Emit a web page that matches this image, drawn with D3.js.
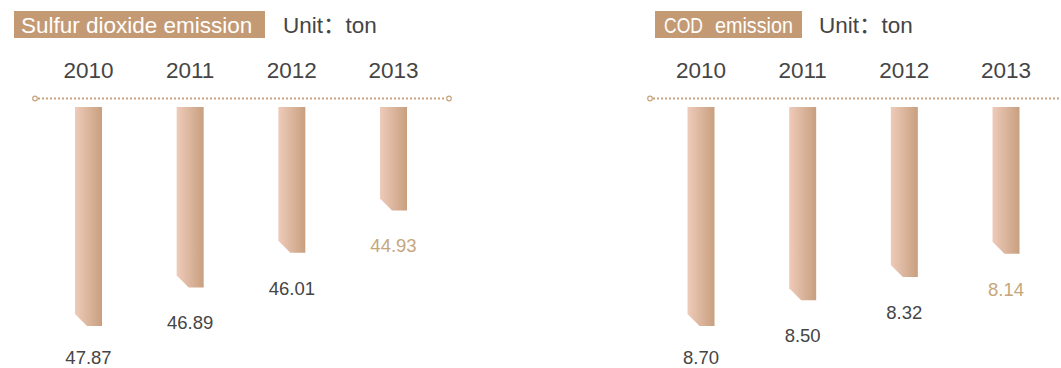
<!DOCTYPE html>
<html>
<head>
<meta charset="utf-8">
<script src="https://cdn.jsdelivr.net/npm/d3@7"></script>
<style>
  html, body { margin: 0; padding: 0; background: #ffffff; }
  svg { display: block; font-family: "Liberation Sans", Arial, "Noto Sans CJK SC", sans-serif; }
</style>
</head>
<body>
<svg id="chart" width="1061" height="368"></svg>
<script>
// ---- data ----
const years = ["2010", "2011", "2012", "2013"];
const so2Values = [47.87, 46.89, 46.01, 44.93];
const codValues = [8.70, 8.50, 8.32, 8.14];
const so2Title = ["Sulfur dioxide emission"];
const codTitle = ["COD", "emission"];
const unitLabel = "Unit：ton";
const so2Base = 42.3;
const codBase = 7.0;

const panels = [
  { title: so2Title, values: so2Values, base: so2Base, titleX: 14, titleW: 251, titleSize: 22.5,
    titleParts: [{ x: 21, w: null }], unitX: 283,
    xRange: [88.5, 393.5], lineX: [35, 449], rightCircle: true },
  { title: codTitle, values: codValues, base: codBase, titleX: 655, titleW: 147, titleSize: 21.5,
    titleParts: [{ x: 664, w: 39 }, { x: 715, w: 78 }], unitX: 819,
    xRange: [701, 1006], lineX: [650, 1070], rightCircle: false }
];

const svg = d3.select("#chart");
const defs = svg.append("defs");
const grad = defs.append("linearGradient").attr("id", "barGrad")
  .attr("x1", "0%").attr("x2", "100%").attr("y1", "0%").attr("y2", "0%");
grad.append("stop").attr("offset", "0%").attr("stop-color", "#eecbba");
grad.append("stop").attr("offset", "100%").attr("stop-color", "#c89f7e");

const barTop = 107, barMaxBottom = 326, barW = 27, chamfer = 12;
const tan = "#c49a74";
const lineColor = "#c9a47c";
const textDark = "#454545";
const highlight = "#c6a67c";

panels.forEach(p => {
  const g = svg.append("g");
  // title box
  g.append("rect").attr("x", p.titleX).attr("y", 11).attr("width", p.titleW).attr("height", 27).attr("fill", tan);
  p.title.forEach((t, i) => {
    const part = p.titleParts[i];
    const txt = g.append("text").attr("x", part.x).attr("y", 32.5).attr("fill", "#ffffff")
      .attr("font-size", p.titleSize).text(t);
    if (part.w) txt.attr("textLength", part.w).attr("lengthAdjust", "spacingAndGlyphs");
  });
  g.append("text").attr("x", p.unitX).attr("y", 32.5).attr("fill", textDark)
    .attr("font-size", 22.5).text(unitLabel);

  const x = d3.scalePoint().domain(years).range(p.xRange);
  const y = d3.scaleLinear().domain([p.base, d3.max(p.values)]).range([barTop, barMaxBottom]);

  // year labels
  g.selectAll("text.year").data(years).join("text").attr("class", "year")
    .attr("x", d => x(d)).attr("y", 78).attr("text-anchor", "middle")
    .attr("fill", textDark).attr("font-size", 22.5).text(d => d);

  // dotted line
  g.append("line").attr("x1", p.lineX[0] + 3).attr("x2", p.rightCircle ? p.lineX[1] - 3 : p.lineX[1])
    .attr("y1", 98.5).attr("y2", 98.5).attr("stroke", lineColor).attr("stroke-width", 2)
    .attr("stroke-dasharray", "2,2");
  g.append("circle").attr("cx", p.lineX[0]).attr("cy", 98.5).attr("r", 2.3)
    .attr("fill", "#fff").attr("stroke", lineColor).attr("stroke-width", 1.2);
  if (p.rightCircle) {
    g.append("circle").attr("cx", p.lineX[1]).attr("cy", 98.5).attr("r", 2.3)
      .attr("fill", "#fff").attr("stroke", lineColor).attr("stroke-width", 1.2);
  }

  // bars
  const data = years.map((yr, i) => ({ year: yr, value: p.values[i], last: i === years.length - 1 }));
  g.selectAll("path.bar").data(data).join("path").attr("class", "bar")
    .attr("fill", "url(#barGrad)")
    .attr("d", d => {
      const x0 = x(d.year) - barW / 2, x1 = x0 + barW, b = y(d.value);
      return `M${x0},${barTop}H${x1}V${b}H${x0 + chamfer}L${x0},${b - chamfer}Z`;
    });

  // value labels
  g.selectAll("text.val").data(data).join("text").attr("class", "val")
    .attr("x", d => x(d.year)).attr("y", d => Math.min(y(d.value) + 42, 364))
    .attr("text-anchor", "middle").attr("font-size", 18.5)
    .attr("fill", d => d.last ? highlight : textDark)
    .text(d => d.value.toFixed(2));
});
</script>
</body>
</html>
